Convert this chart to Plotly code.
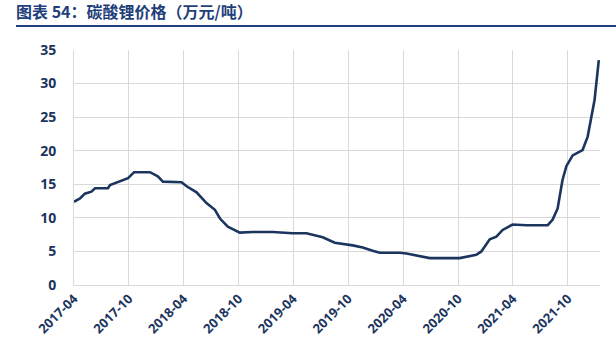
import plotly.graph_objects as go

dates = ["2017-04-01", "2017-04-21", "2017-05-07", "2017-05-29", "2017-06-10", "2017-07-23",
         "2017-07-30", "2017-09-06", "2017-09-28", "2017-10-18", "2017-12-10", "2018-01-05",
         "2018-01-22", "2018-03-25", "2018-04-11", "2018-05-14", "2018-06-16", "2018-07-14",
         "2018-07-31", "2018-08-26", "2018-10-05", "2018-11-17", "2019-01-23", "2019-03-30",
         "2019-05-15", "2019-07-08", "2019-08-17", "2019-10-16", "2019-11-18", "2019-12-21",
         "2020-01-14", "2020-03-20", "2020-04-12", "2020-06-28", "2020-10-06", "2020-11-30",
         "2020-12-17", "2021-01-14", "2021-02-05", "2021-02-26", "2021-03-31", "2021-05-16",
         "2021-07-26", "2021-08-11", "2021-08-28", "2021-09-13", "2021-09-26", "2021-10-17",
         "2021-11-19", "2021-12-06", "2021-12-29", "2022-01-12"]
prices = [12.4, 12.9, 13.6, 13.9, 14.4, 14.4,
          14.9, 15.5, 15.9, 16.8, 16.8, 16.2,
          15.4, 15.3, 14.7, 13.8, 12.2, 11.2,
          9.9, 8.7, 7.8, 7.9, 7.9, 7.7,
          7.7, 7.1, 6.3, 5.9, 5.6, 5.1,
          4.8, 4.8, 4.7, 4.0, 4.0, 4.5,
          5.0, 6.8, 7.2, 8.2, 9.0, 8.9,
          8.9, 9.7, 11.4, 15.6, 17.7, 19.3,
          20.1, 22.1, 27.6, 33.5]

tick_vals = ["2017-04-01", "2017-10-01", "2018-04-01", "2018-10-01", "2019-04-01",
             "2019-10-01", "2020-04-01", "2020-10-01", "2021-04-01", "2021-10-01"]
tick_text = ["2017-04", "2017-10", "2018-04", "2018-10", "2019-04",
             "2019-10", "2020-04", "2020-10", "2021-04", "2021-10"]

title_text = "图表 54：碳酸锂价格（万元/吨）"

navy = "#1c355e"
grid = "#d9d9d9"

fig = go.Figure(go.Scatter(x=dates, y=prices, mode="lines",
                           line=dict(color=navy, width=2.6), hoverinfo="skip"))

fig.update_layout(
    width=616, height=360,
    margin=dict(l=74, r=16, t=50, b=75),
    paper_bgcolor="white", plot_bgcolor="white",
    showlegend=False,
    font=dict(family="Open Sans, Noto Sans CJK SC", color=navy),
    title=dict(text="<b>" + title_text + "</b>", x=16 / 616, xref="container", xanchor="left",
               y=1 - 12 / 360, yref="container", yanchor="middle",
               font=dict(family="Noto Sans CJK SC", size=16, color="#1f3f7a")),
    shapes=[dict(type="line", xref="paper", yref="paper",
                 x0=(16 - 74) / 526, x1=(616 - 74) / 526,
                 y0=1 + (50 - 26) / 235, y1=1 + (50 - 26) / 235,
                 line=dict(color="#1f3f7a", width=2))],
)
fig.update_xaxes(type="date", range=["2017-04-01", "2022-01-16"],
                 tickmode="array", tickvals=tick_vals, ticktext=["<b>" + t + "</b>" for t in tick_text],
                 tickangle=-45, showgrid=True, gridcolor=grid, gridwidth=1,
                 showline=True, linecolor=grid, linewidth=1, ticks="",
                 tickfont=dict(size=13, color=navy, family="Open Sans"), zeroline=False)
fig.update_yaxes(range=[0, 35], dtick=5, showgrid=True, gridcolor=grid, gridwidth=1,
                 showline=True, linecolor=grid, ticks="", ticklabelstandoff=14,
                 tickprefix="<b>", ticksuffix="</b>",
                 tickfont=dict(size=14, color=navy, family="Open Sans"), zeroline=False)

fig.write_html("out.html")
